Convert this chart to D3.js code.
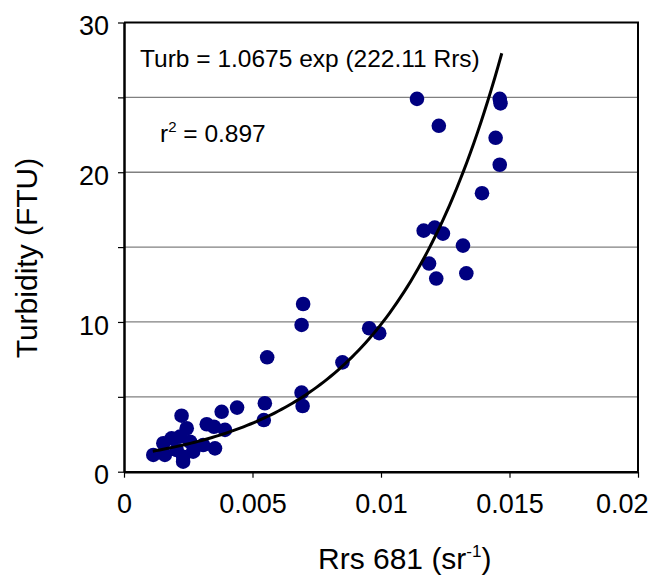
<!DOCTYPE html>
<html>
<head>
<meta charset="utf-8">
<script src="https://cdn.jsdelivr.net/npm/d3@7"></script>
<style>
  body { margin: 0; background: #fff; }
  text { font-family: "Liberation Sans", Arial, sans-serif; fill: #000; }
</style>
</head>
<body>
<div id="chart"></div>
<script>
// data
const rrs = [
  0.0114, 0.01225, 0.01462, 0.01465, 0.01446, 0.01462, 0.01393,
  0.01166, 0.01209, 0.01241, 0.01319, 0.01187, 0.01215, 0.01332,
  0.00697, 0.00691, 0.00557, 0.0085, 0.00954, 0.00993,
  0.00548, 0.00691, 0.00695, 0.00544,
  0.00224, 0.00244, 0.00322, 0.0035, 0.0038, 0.0044, 0.00393,
  0.00218, 0.00185, 0.00153, 0.00257, 0.00308, 0.00354,
  0.00114, 0.00159, 0.0023, 0.0023, 0.00205, 0.00269
];
const turb = [
  24.9, 23.1, 24.9, 24.6, 22.3, 20.5, 18.6,
  16.1, 16.3, 15.9, 15.1, 13.9, 12.9, 13.25,
  11.2, 9.8, 7.64, 7.3, 9.58, 9.25,
  4.57, 5.28, 4.39, 3.45,
  3.74, 2.9, 3.17, 3.0, 4.0, 4.28, 2.79,
  2.34, 2.23, 1.9, 2.0, 1.78, 1.56,
  1.12, 1.12, 1.0, 0.67, 1.45, 1.34
];
const xTicks = [0, 0.005, 0.01, 0.015, 0.02];
const xTickLabels = ["0", "0.005", "0.01", "0.015", "0.02"];
const yTicks = [0, 5, 10, 15, 20, 25, 30];
const yTickLabels = ["0", "", "10", "", "20", "", "30"];
const gridValues = [5, 10, 15, 20, 25];
// exponential fit shown on the chart
const fitA = 1.0675, fitB = 222.11, fitFrom = 0.00112, fitTo = 0.0147;

const width = 653, height = 577;
const margin = { top: 22.5, right: 15, bottom: 105.3, left: 124 };

const svg = d3.select("#chart").append("svg")
  .attr("width", width).attr("height", height);

const x = d3.scaleLinear().domain([0, 0.02]).range([margin.left, width - margin.right]);
const y = d3.scaleLinear().domain([0, 30]).range([height - margin.bottom, margin.top]);

// gridlines
svg.append("g").selectAll("line").data(gridValues).join("line")
  .attr("x1", x(0)).attr("x2", x(0.02))
  .attr("y1", d => y(d)).attr("y2", d => y(d))
  .attr("stroke", "#808080").attr("stroke-width", 1.3);

// plot frame (top and right)
svg.append("path")
  .attr("d", `M${x(0)},${y(30)}H${x(0.02)}V${y(0)}`)
  .attr("fill", "none").attr("stroke", "#000").attr("stroke-width", 2);

// axes
const xAxis = svg.append("g")
  .attr("transform", `translate(0,${y(0)})`)
  .call(d3.axisBottom(x).tickValues(xTicks).tickSize(6).tickSizeOuter(0)
    .tickFormat((d, i) => xTickLabels[i]));
xAxis.select(".domain").attr("stroke-width", 2.5);
xAxis.selectAll(".tick line").attr("stroke-width", 1.2);
xAxis.selectAll(".tick text")
  .attr("y", 22).attr("font-size", 27).attr("font-family", null);
// last label pulled in so it stays inside the picture, as in the original
xAxis.selectAll(".tick text").filter(d => d === 0.02)
  .attr("text-anchor", "end").attr("x", width - 5 - x(0.02));

const yAxis = svg.append("g")
  .attr("transform", `translate(${x(0)},0)`)
  .call(d3.axisLeft(y).tickValues(yTicks).tickSize(6).tickSizeOuter(0)
    .tickFormat((d, i) => yTickLabels[i]));
yAxis.select(".domain").attr("stroke-width", 2.5);
yAxis.selectAll(".tick line").attr("stroke-width", 1.2);
yAxis.selectAll(".tick text")
  .attr("x", -15).attr("dy", "0.45em").attr("font-size", 27).attr("font-family", null);

// points
svg.append("g").selectAll("circle").data(rrs).join("circle")
  .attr("cx", d => x(d))
  .attr("cy", (d, i) => y(turb[i]))
  .attr("r", 7.3)
  .attr("fill", "#000080");

// fitted curve
const fitPts = d3.range(0, 101).map(i => {
  const v = fitFrom + (fitTo - fitFrom) * i / 100;
  return [v, fitA * Math.exp(fitB * v)];
});
svg.append("path")
  .datum(fitPts)
  .attr("d", d3.line().x(d => x(d[0])).y(d => y(d[1])))
  .attr("fill", "none").attr("stroke", "#000").attr("stroke-width", 3);

// annotations
svg.append("text").attr("x", 140).attr("y", 66.5).attr("font-size", 24.5)
  .text("Turb = 1.0675 exp (222.11 Rrs)");
const r2 = svg.append("text").attr("x", 160).attr("y", 141.5).attr("font-size", 24.5);
r2.append("tspan").text("r");
r2.append("tspan").attr("dy", -10).attr("font-size", 15).text("2");
r2.append("tspan").attr("dy", 10).text(" = 0.897");

// axis titles
const xt = svg.append("text").attr("x", 318).attr("y", 569).attr("font-size", 30);
xt.append("tspan").text("Rrs 681  (sr");
xt.append("tspan").attr("dy", -12).attr("font-size", 17).text("-1");
xt.append("tspan").attr("dy", 12).text(")");

svg.append("text")
  .attr("transform", `translate(37,258) rotate(-90)`)
  .attr("text-anchor", "middle").attr("font-size", 30)
  .text("Turbidity (FTU)");
</script>
</body>
</html>
